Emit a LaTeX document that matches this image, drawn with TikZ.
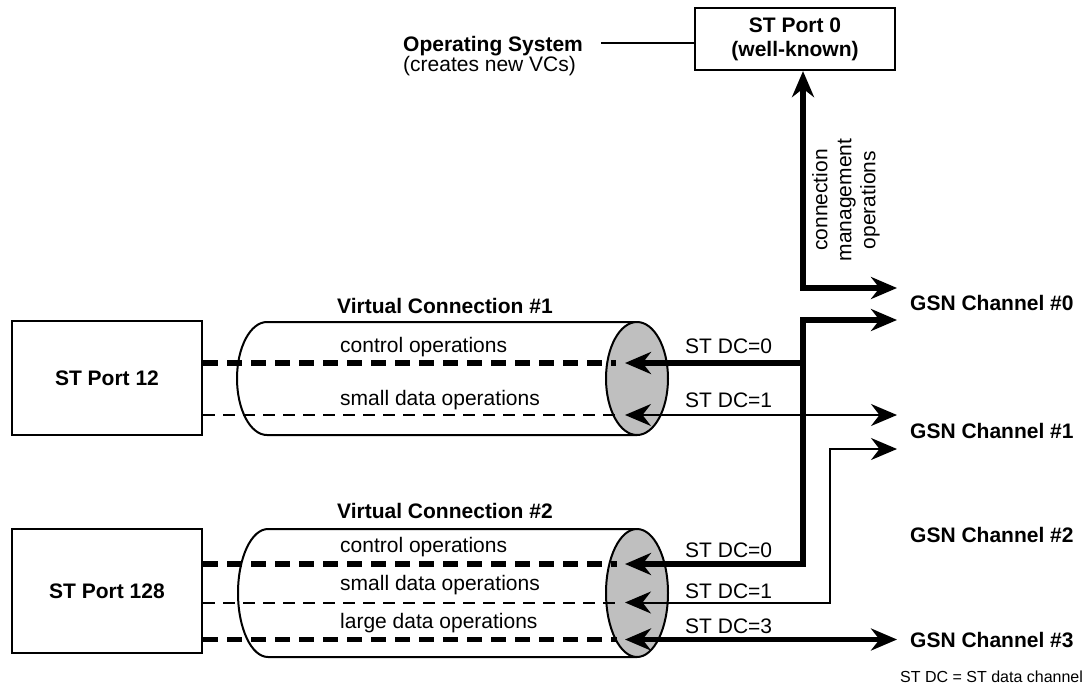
\documentclass[tikz,border=0pt]{standalone}
\usepackage{fontspec}
\setmainfont{Liberation Sans}
\usetikzlibrary{arrows.meta,shapes.geometric}
\begin{document}
\begin{tikzpicture}[x=1pt,y=-1pt,
  every node/.style={font=\fontsize{21}{24}\selectfont, inner sep=0pt},
  lbl/.style={anchor=base west},
  bold/.style={font=\fontsize{21}{24}\selectfont\bfseries},
  portbox/.style={draw, line width=2.2pt, minimum width=190pt, fill=white,
    font=\fontsize{21}{24}\selectfont\bfseries, align=center},
  cyl/.style={draw, line width=2pt, fill=white},
  capell/.style={draw, ellipse, line width=2pt, fill=gray!50, inner sep=0pt},
  thickline/.style={line width=6.5pt, line join=miter},
  medline/.style={line width=4.5pt, line join=miter},
  thinline/.style={line width=2pt, line join=miter},
  thickdash/.style={line width=6.5pt, dash pattern=on 15pt off 9pt},
  meddash/.style={line width=5pt, dash pattern=on 15pt off 9pt},
  thindash/.style={line width=2pt, dash pattern=on 12pt off 8pt},
  >={Stealth[length=26pt,width=22pt]}
]
\useasboundingbox (0,0) rectangle (1088,689);

% cylinders
\draw[cyl] (637,322) -- (267,322) arc[start angle=270, end angle=90, x radius=30, y radius=56.5] -- (637,435);
\node[capell, minimum width=62pt, minimum height=113pt] (e1) at (637,378.5) {};
\draw[cyl] (637,529) -- (268,529) arc[start angle=270, end angle=90, x radius=30, y radius=64] -- (637,657);
\node[capell, minimum width=62pt, minimum height=128pt] (e2) at (637,593) {};

% boxes
\node[portbox, minimum height=114pt] (p12) at (107,378) {ST Port 12};
\node[portbox, minimum height=124pt] (p128) at (107,591) {ST Port 128};
\node[portbox, minimum width=200pt, minimum height=62pt] (p0) at (795,39) {ST Port 0\\(well-known)};

% coordinates
\coordinate (j0) at (803,288);
\coordinate (g0a) at (897,288);
\coordinate (g0b) at (897,320);
\coordinate (j1) at (803,320);
\coordinate (j2) at (803,564);
\coordinate (k1) at (803,363);
\coordinate (t1a) at (625,363);
\coordinate (t1b) at (625,415);
\coordinate (g1a) at (897,415);
\coordinate (g1b) at (897,449);
\coordinate (m1) at (830,449);
\coordinate (m2) at (830,602.5);
\coordinate (t2a) at (625,564);
\coordinate (t2b) at (625,602.5);
\coordinate (t2c) at (625,639.5);
\coordinate (g3) at (897,639.5);
\coordinate (d1a) at (616,363);
\coordinate (d1b) at (616,415);
\coordinate (d2a) at (617,564);
\coordinate (d2b) at (617,602.5);
\coordinate (d2c) at (617,639.5);

% dashed channels
\draw[thickdash] (p12.east |- d1a) -- (d1a);
\draw[thindash] (p12.east |- d1b) -- (d1b);
\draw[thickdash] (p128.east |- d2a) -- (d2a);
\draw[thindash] (p128.east |- d2b) -- (d2b);
\draw[meddash] (p128.east |- d2c) -- (d2c);

% connectors
\draw[thickline, <->] (g0a) -- (j0) -- (j0 |- p0.south);
\draw[thickline, <->] (g0b) -- (j1) -- (j2) -- (t2a);
\draw[thickline, ->] (k1) -- (t1a);
\draw[thinline, <->] (t1b) -- (g1a);
\draw[thinline, <->] (g1b) -- (m1) -- (m2) -- (t2b);
\draw[medline, <->] (t2c) -- (g3);

% operating system
\node[bold, anchor=base west] (os) at (403,51) {Operating System};
\node[lbl] (osc) at (403,71) {(creates new VCs)};
\coordinate (osl) at (601,43);
\draw[thinline] (osl) -- (osl -| p0.west);

\node[rotate=90, align=center] (cmo) at (846,200) {connection\\management\\operations};

% VC labels
\node[bold, anchor=base west] (vc1) at (337,313) {Virtual Connection \#1};
\node[lbl] (c1) at (340,352) {control operations};
\node[lbl] (s1) at (340,405) {small data operations};
\node[lbl] (dc10) at (685,353) {ST DC=0};
\node[lbl] (dc11) at (685,407) {ST DC=1};

\node[bold, anchor=base west] (vc2) at (337,518) {Virtual Connection \#2};
\node[lbl] (c2) at (340,552) {control operations};
\node[lbl] (s2) at (340,590) {small data operations};
\node[lbl] (l2) at (340,628) {large data operations};
\node[lbl] (dc20) at (685,557) {ST DC=0};
\node[lbl] (dc21) at (685,598) {ST DC=1};
\node[lbl] (dc23) at (685,633) {ST DC=3};

% GSN labels
\node[bold, anchor=base west] (gsn0) at (910,310) {GSN Channel \#0};
\node[bold, anchor=base west] (gsn1) at (910,438) {GSN Channel \#1};
\node[bold, anchor=base west] (gsn2) at (910,542) {GSN Channel \#2};
\node[bold, anchor=base west] (gsn3) at (910,647) {GSN Channel \#3};
\node[anchor=base west, font=\fontsize{16}{19}\selectfont] (legend) at (900,682) {ST DC = ST data channel};
\end{tikzpicture}
\end{document}
